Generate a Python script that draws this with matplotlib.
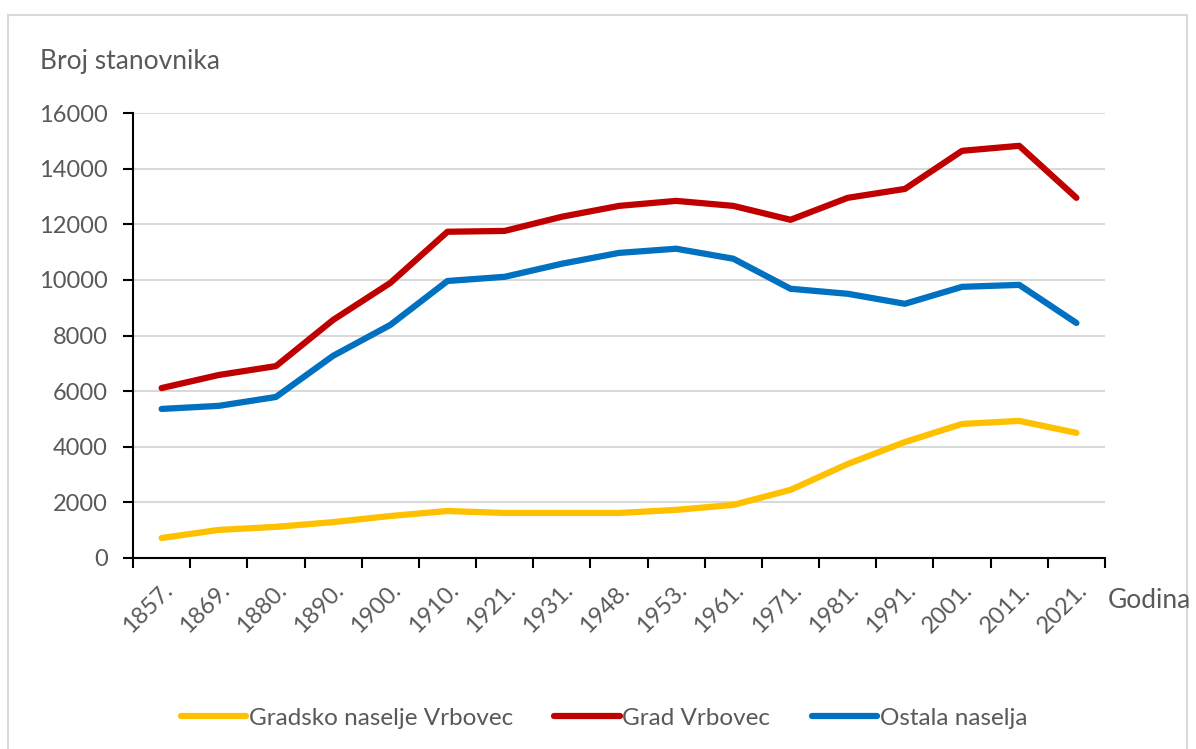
import matplotlib.pyplot as plt
import matplotlib.patches as mpatches
import numpy as np

plt.rcParams['font.family'] = ['Lato', 'DejaVu Sans']

# ------------------------------- data --------------------------------
godine = ['1857.', '1869.', '1880.', '1890.', '1900.', '1910.', '1921.',
          '1931.', '1948.', '1953.', '1961.', '1971.', '1981.', '1991.',
          '2001.', '2011.', '2021.']
gradsko_naselje = [720, 1010, 1120, 1290, 1510, 1690, 1620, 1620, 1620,
                   1730, 1910, 2450, 3380, 4170, 4820, 4930, 4500]
grad_vrbovec = [6110, 6580, 6900, 8560, 9890, 11730, 11760, 12270, 12660,
                12840, 12660, 12160, 12950, 13270, 14640, 14820, 12950]
ostala_naselja = [5360, 5470, 5790, 7270, 8380, 9960, 10110, 10580, 10970,
                  11120, 10760, 9680, 9500, 9140, 9750, 9820, 8450]

grey = '#595959'

fig = plt.figure(figsize=(11.96, 7.49), dpi=100)
ax = fig.add_axes([133 / 1196, 1 - 558 / 749, (1105 - 133) / 1196, (558 - 113) / 749])

x = np.arange(len(godine))
ax.plot(x, gradsko_naselje, color='#ffc000', lw=4.5, solid_capstyle='round',
        label='Gradsko naselje Vrbovec')
ax.plot(x, grad_vrbovec, color='#c00000', lw=4.5, solid_capstyle='round',
        label='Grad Vrbovec')
ax.plot(x, ostala_naselja, color='#0070c0', lw=4.5, solid_capstyle='round',
        label='Ostala naselja')

ax.set_xlim(-0.5, len(godine) - 0.5)
ax.set_ylim(0, 16000)
ax.set_yticks(range(0, 16001, 2000))
ax.yaxis.grid(True, color='#d9d9d9', lw=1.5)
ax.set_axisbelow(True)

# tick marks between categories, labels in the middle
ax.set_xticks(np.arange(-0.5, len(godine), 1))
ax.set_xticklabels([])
ax.set_xticks(x, minor=True)
ax.set_xticklabels(godine, minor=True, rotation=45, ha='right',
                   rotation_mode='anchor', fontsize=17, color=grey)
ax.tick_params(axis='x', which='major', length=7, width=1.5, color='black')
ax.tick_params(axis='x', which='minor', length=0, pad=15)
ax.tick_params(axis='y', length=7, width=1.5, color='black',
               labelsize=17, labelcolor=grey, pad=11)

for s in ['top', 'right']:
    ax.spines[s].set_visible(False)
for s in ['left', 'bottom']:
    ax.spines[s].set_linewidth(1.5)

fig.text(40 / 1196, 1 - 62 / 749, 'Broj stanovnika', fontsize=19,
         color=grey, va='center')
fig.text(1108 / 1196, 1 - 600 / 749, 'Godina', fontsize=19,
         color=grey, va='center')

fig.legend(loc='center', bbox_to_anchor=(604 / 1196, 1 - 718 / 749), ncol=3,
           frameon=False, fontsize=17.5, handlelength=2.7, handletextpad=0.1,
           columnspacing=1.7, labelcolor=grey)

# chart border
fig.patches.append(mpatches.Rectangle((8 / 1196, -0.01), 1179 / 1196, 1 - 15 / 749 + 0.01,
                                      transform=fig.transFigure, fill=False,
                                      edgecolor='#d9d9d9', lw=1.5))

fig.savefig('out.png', dpi=100)
